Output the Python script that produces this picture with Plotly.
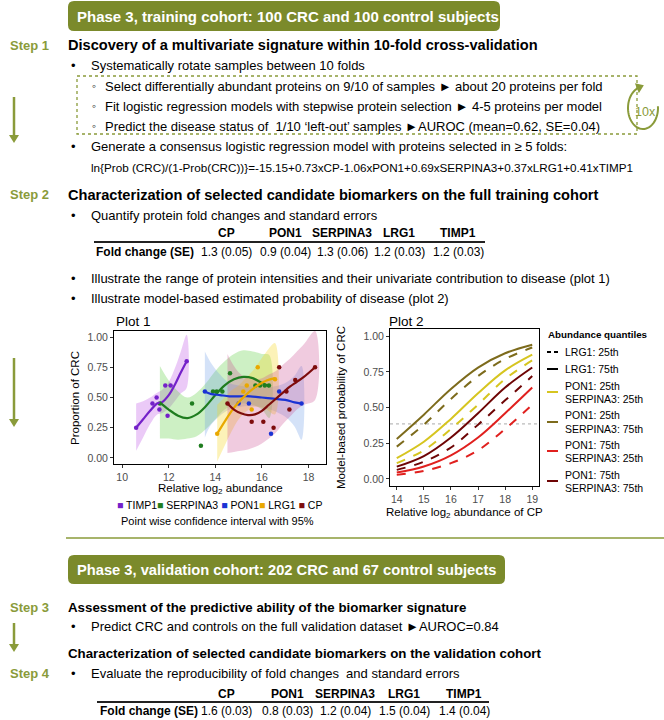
import math
import plotly.graph_objects as go

W, H = 664, 720
def X(px): return px / W
def Y(py): return 1 - py / H

# ---------------- data ----------------
proteins = ["CP", "PON1", "SERPINA3", "LRG1", "TIMP1"]
fc_train = ["1.3 (0.05)", "0.9 (0.04)", "1.3 (0.06)", "1.2 (0.03)", "1.2 (0.03)"]
fc_valid = ["1.6 (0.03)", "0.8 (0.03)", "1.2 (0.04)", "1.5 (0.04)", "1.4 (0.04)"]

# Plot 1: observed proportions (points), loess fit and 95% band
timp1_px = [10.6, 11.3, 11.48, 11.6, 11.85, 11.95, 12.08, 12.77]
timp1_py = [0.25, 0.45, 0.50, 0.40, 0.60, 0.35, 0.60, 0.80]
timp1_fx = [10.6, 10.9, 11.2, 11.5, 11.7, 12.0, 12.3, 12.5, 12.77]
timp1_fy = [0.25, 0.32, 0.39, 0.45, 0.46, 0.52, 0.62, 0.70, 0.80]
timp1_lo = [0.06, 0.17, 0.28, 0.36, 0.37, 0.41, 0.48, 0.53, 0.58]
timp1_hi = [0.45, 0.47, 0.50, 0.54, 0.56, 0.63, 0.76, 0.87, 1.02]

serp_px = [11.62, 13.0, 13.38, 13.9, 14.06, 14.3, 14.63, 15.72, 15.92, 16.12, 16.3]
serp_py = [0.45, 0.45, 0.10, 0.55, 0.55, 0.55, 0.70, 0.60, 0.60, 0.60, 0.60]
serp_fx = [11.62, 12.0, 12.4, 12.8, 13.2, 13.6, 14.0, 14.4, 14.8, 15.2, 15.6, 16.0, 16.32]
serp_fy = [0.46, 0.40, 0.35, 0.33, 0.36, 0.43, 0.52, 0.60, 0.65, 0.67, 0.66, 0.62, 0.59]
serp_lo = [0.16, 0.16, 0.15, 0.16, 0.18, 0.24, 0.32, 0.40, 0.44, 0.45, 0.44, 0.40, 0.33]
serp_hi = [0.76, 0.64, 0.55, 0.50, 0.54, 0.62, 0.72, 0.80, 0.86, 0.89, 0.88, 0.86, 0.85]

pon1_px = [13.55, 15.0, 15.44, 16.39, 16.74, 17.7]
pon1_py = [0.55, 0.45, 0.45, 0.20, 0.55, 0.45]
pon1_fx = [13.55, 13.8, 14.2, 14.6, 15.0, 15.5, 16.0, 16.5, 17.0, 17.4, 17.7]
pon1_fy = [0.55, 0.53, 0.52, 0.51, 0.51, 0.51, 0.50, 0.49, 0.48, 0.46, 0.45]
pon1_lo = [0.17, 0.27, 0.35, 0.40, 0.42, 0.43, 0.42, 0.39, 0.34, 0.26, 0.15]
pon1_hi = [0.88, 0.79, 0.69, 0.62, 0.60, 0.59, 0.58, 0.59, 0.62, 0.68, 0.76]

lrg1_px = [14.08, 15.2, 15.35, 15.56, 15.82, 16.56]
lrg1_py = [0.20, 0.55, 0.60, 0.40, 0.75, 0.65]
lrg1_fx = [14.08, 14.4, 14.7, 15.0, 15.3, 15.6, 15.9, 16.2, 16.56]
lrg1_fy = [0.20, 0.30, 0.39, 0.46, 0.52, 0.57, 0.61, 0.64, 0.66]
lrg1_lo = [-0.03, 0.10, 0.22, 0.32, 0.38, 0.42, 0.42, 0.40, 0.36]
lrg1_hi = [0.44, 0.50, 0.56, 0.60, 0.66, 0.72, 0.80, 0.88, 0.95]

cp_px = [14.52, 15.56, 16.06, 16.5, 16.74, 17.05, 17.18, 17.43, 18.28]
cp_py = [0.45, 0.30, 0.30, 0.25, 0.75, 0.55, 0.40, 0.645, 0.75]
cp_fx = [14.52, 14.8, 15.1, 15.4, 15.7, 16.0, 16.3, 16.6, 16.9, 17.2, 17.5, 17.8, 18.28]
cp_fy = [0.45, 0.40, 0.37, 0.355, 0.36, 0.39, 0.44, 0.49, 0.54, 0.59, 0.63, 0.67, 0.75]
cp_lo = [0.04, 0.05, 0.06, 0.07, 0.09, 0.12, 0.16, 0.21, 0.28, 0.34, 0.40, 0.44, 0.48]
cp_hi = [0.86, 0.76, 0.69, 0.66, 0.65, 0.66, 0.69, 0.72, 0.77, 0.82, 0.88, 0.94, 1.05]

# Plot 2: model-based probability of CRC vs CP abundance
cp_grid = [14, 15, 16, 17, 18, 19]
p_p25_s25_l75 = [0.145, 0.26, 0.42, 0.60, 0.76, 0.87]
p_p25_s25_l25 = [0.11, 0.20, 0.35, 0.52, 0.70, 0.83]
p_p25_s75_l75 = [0.28, 0.45, 0.63, 0.78, 0.88, 0.94]
p_p25_s75_l25 = [0.226, 0.38, 0.56, 0.72, 0.84, 0.92]
p_p75_s25_l75 = [0.044, 0.087, 0.165, 0.29, 0.46, 0.64]
p_p75_s25_l25 = [0.028, 0.056, 0.11, 0.20, 0.35, 0.52]
p_p75_s75_l75 = [0.086, 0.16, 0.29, 0.46, 0.64, 0.78]
p_p75_s75_l25 = [0.063, 0.12, 0.22, 0.38, 0.55, 0.72]
ref_prob = 0.385

# ---------------- styles ----------------
OLIVE = "#7b8a2b"
OLIVE_L = "#8a9b3a"
FONT = "Liberation Sans, Arial, sans-serif"
C_TIMP1, C_SERP, C_PON1, C_LRG1, C_CP = "#7421c9", "#1f7d1f", "#1a33d4", "#e9a800", "#7d0c0c"
F_TIMP1 = "rgba(190,80,230,0.30)"
F_SERP = "rgba(90,205,60,0.30)"
F_PON1 = "rgba(100,150,230,0.28)"
F_LRG1 = "rgba(245,215,40,0.33)"
F_CP = "rgba(200,70,140,0.28)"
C_YEL, C_OLV, C_RED, C_DKR = "#d6c520", "#7d6b1c", "#e0201e", "#6e0505"

fig = go.Figure()

groups = [
    (timp1_px, timp1_py, timp1_fx, timp1_fy, timp1_lo, timp1_hi, C_TIMP1, F_TIMP1),
    (serp_px, serp_py, serp_fx, serp_fy, serp_lo, serp_hi, C_SERP, F_SERP),
    (pon1_px, pon1_py, pon1_fx, pon1_fy, pon1_lo, pon1_hi, C_PON1, F_PON1),
    (lrg1_px, lrg1_py, lrg1_fx, lrg1_fy, lrg1_lo, lrg1_hi, C_LRG1, F_LRG1),
    (cp_px, cp_py, cp_fx, cp_fy, cp_lo, cp_hi, C_CP, F_CP),
]
for px_, py_, fx, fy, lo, hi, c, f in groups:
    fig.add_trace(go.Scatter(x=fx + fx[::-1], y=lo + hi[::-1], fill="toself", fillcolor=f,
                             line=dict(width=0, shape="spline"), mode="lines",
                             hoverinfo="skip", showlegend=False, xaxis="x", yaxis="y"))
for px_, py_, fx, fy, lo, hi, c, f in groups:
    fig.add_trace(go.Scatter(x=px_, y=py_, mode="markers", marker=dict(color=c, size=4.5),
                             showlegend=False, xaxis="x", yaxis="y"))
for px_, py_, fx, fy, lo, hi, c, f in groups:
    fig.add_trace(go.Scatter(x=fx, y=fy, mode="lines", line=dict(color=c, width=2.2, shape="spline"),
                             showlegend=False, xaxis="x", yaxis="y"))

curves = [
    (p_p25_s75_l75, C_OLV, "solid"), (p_p25_s75_l25, C_OLV, "dash"),
    (p_p25_s25_l75, C_YEL, "solid"), (p_p25_s25_l25, C_YEL, "dash"),
    (p_p75_s75_l75, C_DKR, "solid"), (p_p75_s75_l25, C_DKR, "dash"),
    (p_p75_s25_l75, C_RED, "solid"), (p_p75_s25_l25, C_RED, "dash"),
]
for ys, c, d in curves:
    fig.add_trace(go.Scatter(x=cp_grid, y=ys, mode="lines",
                             line=dict(color=c, width=2, dash=d, shape="spline"),
                             showlegend=False, xaxis="x2", yaxis="y2"))

axis_common = dict(showline=True, mirror=True, linecolor="black", linewidth=1, ticks="outside",
                   ticklen=3, tickcolor="#333", showgrid=False, zeroline=False,
                   tickfont=dict(family=FONT, size=10.5, color="#4d4d4d"))
fig.update_layout(
    xaxis=dict(domain=[X(114), X(326)], range=[9.65, 18.75], tickvals=[10, 12, 14, 16, 18], anchor="y", **axis_common),
    yaxis=dict(domain=[Y(464), Y(331)], range=[-0.05, 1.05], tickvals=[0, 0.25, 0.5, 0.75, 1.0],
               ticktext=["0.00", "0.25", "0.50", "0.75", "1.00"], anchor="x", **axis_common),
    xaxis2=dict(domain=[X(390), X(539)], range=[13.75, 19.25], tickvals=cp_grid, anchor="y2", **axis_common),
    yaxis2=dict(domain=[Y(486), Y(329)], range=[-0.05, 1.05], tickvals=[0, 0.25, 0.5, 0.75, 1.0],
                ticktext=["0.00", "0.25", "0.50", "0.75", "1.00"], anchor="x2", **axis_common),
)

shapes = []
ann = []

def T(text, x, y, size=13, bold=False, color="black", xanchor="left", textangle=0):
    if bold:
        text = "<b>" + text + "</b>"
    ann.append(dict(text=text, x=X(x), y=Y(y), xref="paper", yref="paper", showarrow=False,
                    xanchor=xanchor, yanchor="middle", textangle=textangle,
                    font=dict(family=FONT, size=size, color=color)))

def rrect(x0, y0, x1, y1, r, color):
    p = (f"M {X(x0+r)},{Y(y0)} L {X(x1-r)},{Y(y0)} Q {X(x1)},{Y(y0)} {X(x1)},{Y(y0+r)} "
         f"L {X(x1)},{Y(y1-r)} Q {X(x1)},{Y(y1)} {X(x1-r)},{Y(y1)} L {X(x0+r)},{Y(y1)} "
         f"Q {X(x0)},{Y(y1)} {X(x0)},{Y(y1-r)} L {X(x0)},{Y(y0+r)} Q {X(x0)},{Y(y0)} {X(x0+r)},{Y(y0)} Z")
    shapes.append(dict(type="path", path=p, xref="paper", yref="paper", fillcolor=color, line=dict(width=0), layer="below"))

def darrow(x, y0, y1, color=OLIVE_L):
    shapes.append(dict(type="line", x0=X(x), x1=X(x), y0=Y(y0), y1=Y(y1 - 6), xref="paper", yref="paper",
                       line=dict(color=color, width=2.5)))
    p = f"M {X(x-5)},{Y(y1-8)} L {X(x+5)},{Y(y1-8)} L {X(x)},{Y(y1)} Z"
    shapes.append(dict(type="path", path=p, xref="paper", yref="paper", fillcolor=color, line=dict(width=0)))

def hline(x0, x1, y, color, width, dash="solid"):
    shapes.append(dict(type="line", x0=X(x0), x1=X(x1), y0=Y(y), y1=Y(y), xref="paper", yref="paper",
                       line=dict(color=color, width=width, dash=dash)))

# ---- Top header ----
rrect(68, 1, 500, 31, 6, OLIVE)
T("Phase 3, training cohort: 100 CRC and 100 control subjects", 75, 16, 15, True, "white")

# Step 1
T("Step 1", 8, 45, 13, True, OLIVE_L)
T("Discovery of a multivariate signature within 10-fold cross-validation", 66, 45, 14.6, True)
T("•", 69, 65, 13)
T("Systematically rotate samples between 10 folds", 89, 65, 13)
shapes.append(dict(type="rect", x0=X(77), x1=X(637), y0=Y(76), y1=Y(134), xref="paper", yref="paper",
                   line=dict(color=OLIVE_L, width=1.3, dash="dot")))
for yy, tx in [(86, "Select differentially abundant proteins on 9/10 of samples ► about 20 proteins per fold"),
               (106, "Fit logistic regression models with stepwise protein selection ► 4-5 proteins per model"),
               (126, "Predict the disease status of  1/10 ‘left-out’ samples ►AUROC (mean=0.62, SE=0.04)")]:
    T("◦", 90, yy, 12)
    T(tx, 103, yy, 13)
# 10x circular arrow
cx, cy, rx, ry = 643, 108, 15, 21
pts = []
for i in range(0, 41):
    th = math.radians(5 - i * (255 / 40))
    pts.append((cx + rx * math.cos(th), cy - ry * math.sin(th)))
p = "M " + " L ".join(f"{X(a)},{Y(b)}" for a, b in pts)
shapes.append(dict(type="path", path=p, xref="paper", yref="paper", line=dict(color=OLIVE_L, width=2)))
ex, ey = pts[-1]
p = f"M {X(ex+6)},{Y(ey-3)} L {X(ex-3)},{Y(ey-5)} L {X(ex+1)},{Y(ey+5)} Z"
shapes.append(dict(type="path", path=p, xref="paper", yref="paper", fillcolor=OLIVE_L, line=dict(width=0)))
T("10x", 645, 112, 12.5, False, OLIVE_L, "center")
darrow(14, 97, 143)

T("•", 69, 147, 13)
T("Generate a consensus logistic regression model with proteins selected in ≥ 5 folds:", 89, 147, 13)
T("ln{Prob (CRC)/(1-Prob(CRC))}=-15.15+0.73xCP-1.06xPON1+0.69xSERPINA3+0.37xLRG1+0.41xTIMP1", 89, 167, 11.7)

# Step 2
T("Step 2", 8, 195, 13, True, OLIVE_L)
T("Characterization of selected candidate biomarkers on the full training cohort", 66, 195, 14.6, True)
T("•", 69, 215, 13)
T("Quantify protein fold changes and standard errors", 89, 215, 13)
col_x1 = [226, 285, 342, 399, 458]
for cxx, nm, v in zip(col_x1, proteins, fc_train):
    T(nm, cxx, 233, 12, True, "black", "center")
    T(v, cxx, 252, 12, False, "black", "center")
hline(94, 485, 242, "#222", 2)
T("Fold change (SE)", 94, 252, 12, True)
T("•", 69, 278, 13)
T("Illustrate the range of protein intensities and their univariate contribution to disease (plot 1)", 89, 278, 13)
T("•", 69, 298, 13)
T("Illustrate model-based estimated probability of disease (plot 2)", 89, 298, 13)
darrow(14, 358, 427)

# Plot 1 labels
T("Plot 1", 114, 321, 13.5)
T("Proportion of CRC", 75, 398, 11.5, textangle=-90, xanchor="center")
T("Relative log<sub>2</sub> abundance", 220, 489, 11.5, xanchor="center")
leg1 = (f"<span style='color:{C_TIMP1}'>■</span> TIMP1<span style='color:{C_SERP}'>■</span> SERPINA3 "
        f"<span style='color:{C_PON1}'>■</span> PON1<span style='color:{C_LRG1}'>■</span> LRG1 "
        f"<span style='color:{C_CP}'>■</span> CP")
T(leg1, 219, 505, 10.5, xanchor="center")
T("Point wise confidence interval with 95%", 218, 521, 11, xanchor="center")

# Plot 2 labels
T("Plot 2", 387, 321, 13.5)
T("Model-based probability of CRC", 341, 407, 11.5, textangle=-90, xanchor="center")
T("Relative log<sub>2</sub> abundance of CP", 464, 513, 11.5, xanchor="center")
shapes.append(dict(type="line", xref="x2 domain", yref="y2", x0=0, x1=1, y0=ref_prob, y1=ref_prob,
                   line=dict(color="#aaaaaa", width=1, dash="dot"), layer="below"))

# Plot 2 legend
T("Abundance quantiles", 546, 334, 9.8, True)
leg2 = [("LRG1: 25th", None, "black", "dash", 352),
        ("LRG1: 75th", None, "black", "solid", 369),
        ("PON1: 25th", "SERPINA3: 25th", C_YEL, "solid", 392),
        ("PON1: 25th", "SERPINA3: 75th", C_OLV, "solid", 422),
        ("PON1: 75th", "SERPINA3: 25th", C_RED, "solid", 451),
        ("PON1: 75th", "SERPINA3: 75th", C_DKR, "solid", 481)]
for l1, l2, c, d, yy in leg2:
    if d == "dash":
        shapes.append(dict(type="line", x0=X(547), x1=X(551), y0=Y(yy), y1=Y(yy), xref="paper", yref="paper", line=dict(color=c, width=2)))
        shapes.append(dict(type="line", x0=X(554), x1=X(558), y0=Y(yy), y1=Y(yy), xref="paper", yref="paper", line=dict(color=c, width=2)))
    else:
        shapes.append(dict(type="line", x0=X(547), x1=X(558), y0=Y(yy), y1=Y(yy), xref="paper", yref="paper", line=dict(color=c, width=2)))
    if l2 is None:
        T(l1, 563, yy, 10.5)
    else:
        T(l1, 563, yy - 6.5, 10.5)
        T(l2, 563, yy + 6.5, 10.5)

# separator
hline(66, 664, 538, OLIVE_L, 1.5)

# ---- Validation header ----
rrect(68, 555, 505, 584, 6, OLIVE)
T("Phase 3, validation cohort: 202 CRC and 67 control subjects", 75, 569.5, 14.7, True, "white")
T("Step 3", 8, 607, 13, True, OLIVE_L)
T("Assessment of the predictive ability of the biomarker signature", 66, 607, 13.3, True)
T("•", 69, 626, 13)
T("Predict CRC and controls on the full validation dataset ►AUROC=0.84", 89, 626, 13)
darrow(14, 623, 652)
T("Characterization of selected candidate biomarkers on the validation cohort", 66, 653, 13.3, True)
T("Step 4", 8, 673, 13, True, OLIVE_L)
T("•", 69, 673, 13)
T("Evaluate the reproducibility of fold changes  and standard errors", 89, 673, 13)
col_x2 = [227, 287, 345, 404, 464]
for cxx, nm, v in zip(col_x2, proteins, fc_valid):
    T(nm, cxx, 694, 12, True, "black", "center")
    T(v, cxx, 711, 12, False, "black", "center")
hline(97, 489, 702, "#222", 2)
T("Fold change (SE)", 98, 711, 12, True)

fig.update_layout(width=W, height=H, margin=dict(l=0, r=0, t=0, b=0), paper_bgcolor="white",
                  plot_bgcolor="white", showlegend=False, shapes=shapes, annotations=ann,
                  font=dict(family=FONT))
fig.write_html("out.html", config={"displayModeBar": False},
               post_script="document.body.style.margin='0px';document.body.style.padding='0px';")
